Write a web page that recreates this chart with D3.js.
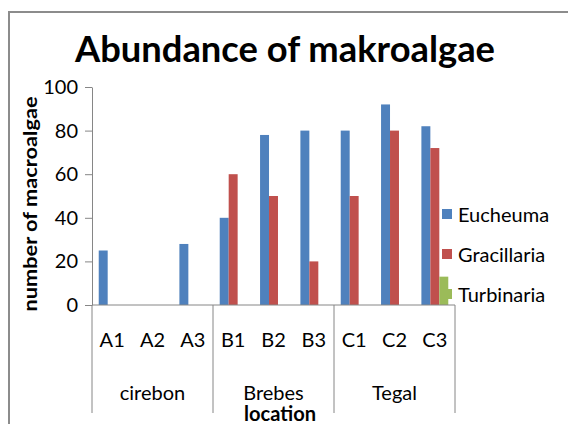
<!DOCTYPE html>
<html>
  <head>
    <script src="https://d3js.org/d3.v7.min.js" charset="utf-8"></script>
    <meta charset="UTF-8">
    <title>Abundance of makroalgae</title>
    <style>
      body { margin: 0; background: #fff; }
      text { font-family: Lato, "Open Sans", sans-serif; fill: #000; }
    </style>
  </head>
  <body>
    <svg class="chart"></svg>
    <script type="text/javascript">

     var width = 568,
         height = 424;

     var categories = ["A1", "A2", "A3", "B1", "B2", "B3", "C1", "C2", "C3"];
     var groups = ["cirebon", "Brebes", "Tegal"];
     var groupSize = 3;
     var series = ["Eucheuma", "Gracillaria", "Turbinaria"];
     var colors = ["#4f81bd", "#c0504d", "#9bbb59"];

     var eucheuma    = [25, 0, 28, 40, 78, 80, 80, 92, 82];
     var gracillaria = [0, 0, 0, 60, 50, 20, 50, 80, 72];
     var turbinaria  = [0, 0, 0, 0, 0, 0, 0, 0, 13];

     var yTicks = [0, 20, 40, 60, 80, 100];

     var values = [eucheuma, gracillaria, turbinaria];

     var plotLeft = 92, plotRight = 455, plotTop = 87, plotBottom = 305;

     var chart = d3.select(".chart")
                   .attr("width", width)
                   .attr("height", height);

     // outer frame (only top and left edges are visible)
     chart.append("rect")
          .attr("x", 9).attr("y", 12)
          .attr("width", 700).attr("height", 600)
          .attr("fill", "none")
          .attr("stroke", "#8c8c8c")
          .attr("stroke-width", 2);

     var x = d3.scaleBand()
               .domain(categories)
               .range([plotLeft, plotRight])
               .padding(0);

     var xs = d3.scaleBand()
                .domain(series)
                .range([0, x.bandwidth()])
                .paddingInner(0)
                .paddingOuter(0.75);

     var y = d3.scaleLinear()
               .domain([0, 100])
               .range([plotBottom, plotTop]);

     // bars
     series.forEach(function(s, si) {
         chart.append("g")
              .selectAll("rect")
              .data(categories.map(function(c, i) { return {cat: c, v: values[si][i]}; })
                              .filter(function(d) { return d.v > 0; }))
              .enter().append("rect")
              .attr("x", function(d) { return x(d.cat) + xs(s); })
              .attr("y", function(d) { return y(d.v); })
              .attr("width", xs.bandwidth())
              .attr("height", function(d) { return y(0) - y(d.v); })
              .attr("fill", colors[si]);
     });

     // y axis
     var yAxis = chart.append("g")
                      .attr("transform", "translate(" + plotLeft + ",0)")
                      .call(d3.axisLeft(y).tickValues(yTicks).tickSize(7).tickSizeOuter(0).tickPadding(7));
     yAxis.select(".domain").attr("stroke", "#868686");
     yAxis.selectAll(".tick line").attr("stroke", "#868686");
     yAxis.selectAll(".tick text")
          .style("font-family", "Lato, 'Open Sans', sans-serif")
          .style("font-size", "20px")
          .attr("fill", "#000");

     // x axis: baseline and group separators
     chart.append("line")
          .attr("x1", plotLeft).attr("x2", plotRight)
          .attr("y1", y(0)).attr("y2", y(0))
          .attr("stroke", "#868686");

     var seps = d3.range(groups.length + 1).map(function(g) {
         return g < groups.length ? x(categories[g * groupSize]) : plotRight;
     });
     chart.append("g").selectAll("line")
          .data(seps)
          .enter().append("line")
          .attr("x1", function(d) { return d; })
          .attr("x2", function(d) { return d; })
          .attr("y1", y(0)).attr("y2", 413)
          .attr("stroke", "#868686");

     chart.append("g").selectAll("text")
          .data(categories)
          .enter().append("text")
          .attr("x", function(d) { return x(d) + x.bandwidth() / 2; })
          .attr("y", 347)
          .attr("text-anchor", "middle")
          .style("font-size", "20px")
          .text(function(d) { return d; });

     chart.append("g").selectAll("text")
          .data(groups)
          .enter().append("text")
          .attr("x", function(d, i) { return (seps[i] + seps[i + 1]) / 2; })
          .attr("y", 400)
          .attr("text-anchor", "middle")
          .style("font-size", "20px")
          .text(function(d) { return d; });

     // titles
     chart.append("text")
          .attr("x", 285).attr("y", 62)
          .attr("text-anchor", "middle")
          .attr("textLength", 420)
          .attr("lengthAdjust", "spacingAndGlyphs")
          .style("font-size", "36px")
          .style("font-weight", "bold")
          .text("Abundance of makroalgae");

     chart.append("text")
          .attr("transform", "translate(37,204) rotate(-90)")
          .attr("text-anchor", "middle")
          .attr("textLength", 215)
          .attr("lengthAdjust", "spacingAndGlyphs")
          .style("font-size", "19px")
          .style("font-weight", "bold")
          .text("number of macroalgae");

     chart.append("text")
          .attr("x", 280).attr("y", 421)
          .attr("text-anchor", "middle")
          .attr("textLength", 72)
          .attr("lengthAdjust", "spacingAndGlyphs")
          .style("font-size", "20px")
          .style("font-weight", "bold")
          .text("location");

     // legend
     var legend = chart.append("g").selectAll("g")
                       .data(series)
                       .enter().append("g")
                       .attr("transform", function(d, i) { return "translate(442," + (209 + i * 40) + ")"; });
     legend.append("rect")
           .attr("width", 10).attr("height", 10)
           .attr("fill", function(d, i) { return colors[i]; });
     legend.append("text")
           .attr("x", 16).attr("y", 13)
           .style("font-size", "20px")
           .text(function(d) { return d; });

    </script>
  </body>
</html>
